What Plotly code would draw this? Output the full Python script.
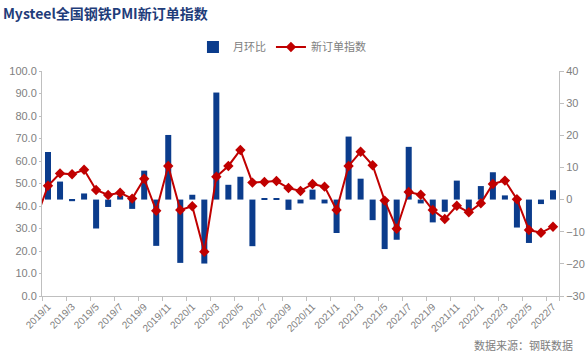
import plotly.graph_objects as go

# Categories (2018/12 only feeds the clipped line start)
months = ["2018/12"] + [f"{y}/{m}" for y in (2019, 2020, 2021) for m in range(1, 13)] + [f"2022/{m}" for m in range(1, 8)]
bar_months = months[1:]
tick_labels = months[1::2]

# 新订单指数 (left axis), starting 2018/12
index_values = [34.2,
    49.0, 54.5, 54.1, 56.1, 47.1, 44.9, 45.9, 43.3, 52.1, 37.9, 57.8, 38.2,
    39.9, 19.7, 53.0, 57.8, 64.9, 50.4, 50.7, 51.1, 48.0, 46.7, 49.8, 48.6,
    38.2, 57.8, 64.1, 58.1, 42.4, 29.9, 46.2, 45.0, 38.2, 34.2, 40.1, 37.2,
    41.2, 49.8, 51.3, 43.0, 29.3, 28.1, 30.8]

# 月环比 (right axis), 2019/1 .. 2022/7
mom_values = [
    14.8, 5.6, -0.5, 1.9, -9.0, -2.3, 1.2, -2.9, 9.0, -14.4, 20.1, -19.7,
    1.5, -19.9, 33.3, 4.6, 7.1, -14.5, 0.3, 0.3, -3.2, -1.2, 3.1, -1.2,
    -10.4, 19.6, 6.5, -6.4, -15.4, -12.5, 16.4, -1.2, -7.1, -3.8, 5.9, -3.5,
    4.2, 8.5, 1.3, -8.7, -13.5, -1.4, 2.9]

grey = "#808080"
axis_col = "#bfbfbf"
font_fam = "Noto Sans CJK SC, DejaVu Sans, sans-serif"
tick_fam = "Liberation Sans, Arial, sans-serif"

fig = go.Figure()
fig.add_trace(go.Bar(
    x=bar_months, y=mom_values, name="月环比",
    marker=dict(color="#0b3c8c", line=dict(width=0)),
    yaxis="y",
))
fig.add_trace(go.Scatter(
    x=months, y=index_values, name="新订单指数", mode="lines+markers",
    line=dict(color="#c00000", width=2),
    marker=dict(symbol="diamond", size=8, color="#c00000"),
    yaxis="y2",
))

fig.update_layout(
    width=586, height=361,
    margin=dict(l=42, r=27, t=71, b=65, autoexpand=False),
    paper_bgcolor="white", plot_bgcolor="white",
    font=dict(family=font_fam, size=11, color=grey),
    bargap=0.5,
    showlegend=True,
    legend=dict(orientation="h", x=0.292, y=1.107, xanchor="left", yanchor="middle",
                font=dict(size=11, color=grey), itemwidth=30, bgcolor="rgba(0,0,0,0)"),
    title=dict(text="<b>Mysteel全国钢铁PMI新订单指数</b>", x=0.005, xanchor="left",
               y=0.962, yanchor="middle", yref="container",
               font=dict(family=font_fam, size=14, color="#1f3d7a")),
    xaxis=dict(
        type="category", categoryorder="array", categoryarray=months,
        range=[0.5, len(months) - 0.5], automargin=False,
        tickmode="array", tickvals=tick_labels, ticktext=tick_labels,
        tickson="boundaries", ticks="outside", ticklen=4, tickcolor=axis_col,
        tickangle=-45, tickfont=dict(family=tick_fam, size=10, color=grey),
        showline=True, linecolor=axis_col, linewidth=1, showgrid=False, zeroline=False,
    ),
    yaxis=dict(
        side="right", range=[-30, 40], dtick=10, tickformat="d", automargin=False,
        showline=True, linecolor=axis_col, ticks="outside", ticklen=4, tickcolor=axis_col,
        showgrid=False, zeroline=False, tickfont=dict(family=tick_fam, size=11, color=grey),
    ),
    yaxis2=dict(
        side="left", overlaying="y", range=[0, 100], dtick=10, tickformat=".1f", automargin=False,
        showline=True, linecolor=axis_col, ticks="outside", ticklen=2, tickcolor=axis_col,
        showgrid=False, zeroline=False, tickfont=dict(family=tick_fam, size=11, color=grey),
    ),
    annotations=[dict(
        text="数据来源：钢联数据", xref="paper", yref="paper",
        x=1.03, y=-0.218, xanchor="right", yanchor="middle", showarrow=False,
        font=dict(size=11, color=grey),
    )],
)

fig.write_html("out.html", config={"displayModeBar": False},
               post_script="document.body.style.margin='0';document.body.style.overflow='hidden';")
